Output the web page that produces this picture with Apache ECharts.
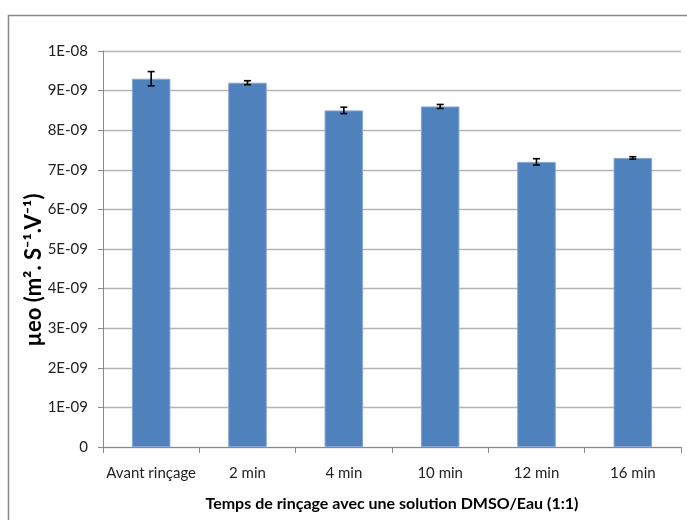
<!DOCTYPE html>
<html>
<head>
<meta charset="utf-8">
<script src="https://cdn.jsdelivr.net/npm/echarts@6/dist/echarts.min.js"></script>
<style>
html,body{margin:0;padding:0;background:#fff;}
#chart{width:687px;height:520px;}
</style>
</head>
<body>
<div id="chart"></div>
<script>
var categories = ['Avant rinçage', '2 min', '4 min', '10 min', '12 min', '16 min'];
var values = [9.3e-9, 9.2e-9, 8.5e-9, 8.6e-9, 7.2e-9, 7.3e-9];
var errors = [0.18e-9, 0.05e-9, 0.08e-9, 0.05e-9, 0.08e-9, 0.03e-9];
var yTickStep = 1e-9;
var yMax = 1e-8;
var yTitle = 'µeo (m². S⁻¹.V⁻¹)';
var xTitle = 'Temps de rinçage avec une solution DMSO/Eau (1:1)';

var font = 'Lato, "Open Sans", "Noto Sans", sans-serif';

function fmtY(v) {
  var n = Math.round(v / 1e-9);
  if (n === 0) return '0';
  if (n === 10) return '1E-08';
  return n + 'E-09';
}

var errData = categories.map(function (c, i) {
  return [i, values[i] - errors[i], values[i] + errors[i]];
});

var chart = echarts.init(document.getElementById('chart'));
chart.setOption({
  animation: false,
  backgroundColor: '#fff',
  graphic: [{
    type: 'rect',
    shape: { x: 8.5, y: 15.5, width: 700, height: 520 },
    style: { fill: 'none', stroke: '#8a8a8a', lineWidth: 1.5 },
    silent: true
  }, {
    type: 'text',
    x: 34,
    y: 270,
    rotation: Math.PI / 2,
    style: {
      text: yTitle,
      fontFamily: font,
      fontSize: 22,
      fontWeight: 'bold',
      fill: '#000',
      align: 'center',
      verticalAlign: 'middle'
    },
    silent: true
  }],
  grid: { left: 103, right: 6, top: 51, bottom: 73 },
  xAxis: {
    type: 'category',
    data: categories,
    name: xTitle,
    nameLocation: 'middle',
    nameGap: 49,
    nameTextStyle: { fontFamily: font, fontSize: 16, fontWeight: 'bold', color: '#000' },
    axisLine: { lineStyle: { color: '#8a8a8a', width: 1 } },
    axisTick: { show: true, alignWithLabel: false, length: 6, lineStyle: { color: '#8a8a8a' } },
    axisLabel: { fontFamily: font, fontSize: 15, color: '#222', margin: 19, interval: 0 }
  },
  yAxis: {
    type: 'value',
    min: 0,
    max: yMax,
    interval: yTickStep,
    axisLine: { show: true, lineStyle: { color: '#8a8a8a', width: 1 } },
    axisTick: { show: true, length: 5, lineStyle: { color: '#8a8a8a' } },
    axisLabel: { fontFamily: font, fontSize: 15, color: '#222', margin: 15, formatter: fmtY },
    splitLine: { lineStyle: { color: '#b4b4b4', width: 1.3 } }
  },
  series: [{
    type: 'bar',
    data: values,
    barWidth: '40%',
    itemStyle: { color: '#4f81bd', borderColor: '#86a6d6', borderWidth: 1 }
  }, {
    type: 'custom',
    data: errData,
    z: 10,
    renderItem: function (params, api) {
      var x = api.value(0);
      var lo = api.coord([x, api.value(1)]);
      var hi = api.coord([x, api.value(2)]);
      var hw = 3.5;
      var st = { stroke: '#000', lineWidth: 1.6 };
      return {
        type: 'group',
        children: [
          { type: 'line', shape: { x1: hi[0], y1: hi[1], x2: lo[0], y2: lo[1] }, style: st },
          { type: 'line', shape: { x1: hi[0] - hw, y1: hi[1], x2: hi[0] + hw, y2: hi[1] }, style: st },
          { type: 'line', shape: { x1: lo[0] - hw, y1: lo[1], x2: lo[0] + hw, y2: lo[1] }, style: st }
        ]
      };
    }
  }]
});
</script>
</body>
</html>
